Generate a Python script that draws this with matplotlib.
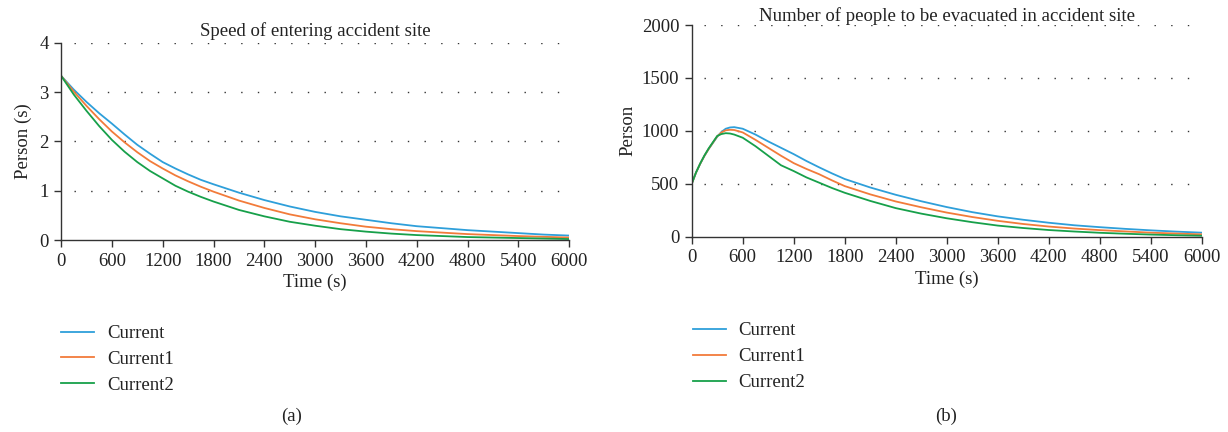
import matplotlib.pyplot as plt

plt.rcParams['font.family'] = ['Liberation Serif', 'DejaVu Serif']

# ---- data (a): speed of entering accident site ----
time_a = [0, 150, 300, 450, 600, 750, 900, 1050, 1200, 1350, 1500, 1650, 1800, 2100, 2400,
          2700, 3000, 3300, 3600, 3900, 4200, 4500, 4800, 5100, 5400, 5700, 6000]
speed_current = [3.33, 3.05, 2.80, 2.57, 2.36, 2.14, 1.93, 1.75, 1.58, 1.45, 1.33, 1.22, 1.13,
                 0.96, 0.81, 0.68, 0.57, 0.48, 0.41, 0.34, 0.28, 0.24, 0.20, 0.17, 0.14,
                 0.11, 0.09]
speed_current1 = [3.33, 3.01, 2.72, 2.45, 2.20, 1.98, 1.78, 1.60, 1.45, 1.31, 1.19, 1.08, 0.98,
                  0.80, 0.65, 0.52, 0.42, 0.34, 0.27, 0.22, 0.18, 0.15, 0.12, 0.10, 0.08,
                  0.065, 0.05]
speed_current2 = [3.33, 2.95, 2.62, 2.31, 2.03, 1.79, 1.58, 1.40, 1.25, 1.10, 0.98, 0.875, 0.78,
                  0.61, 0.48, 0.37, 0.29, 0.22, 0.17, 0.13, 0.10, 0.08, 0.06, 0.05, 0.04,
                  0.03, 0.02]

# ---- data (b): number of people to be evacuated ----
time_b = [0, 50, 100, 150, 200, 300, 350, 400, 450, 500, 600, 750, 900, 1050, 1200, 1350,
          1500, 1650, 1800, 2100, 2400, 2700, 3000, 3300, 3600, 3900, 4200, 4500, 4800,
          5100, 5400, 5700, 6000]
people_current = [500, 605, 690, 765, 830, 945, 990, 1020, 1032, 1035, 1020, 965, 900, 840,
                  780, 715, 655, 598, 545, 465, 396, 335, 280, 232, 192, 160, 132, 108, 90,
                  74, 60, 48, 38]
people_current1 = [500, 605, 690, 765, 830, 948, 985, 1005, 1010, 1008, 985, 915, 840, 765,
                   695, 640, 590, 532, 478, 400, 333, 278, 228, 186, 150, 120, 96, 77, 62,
                   50, 38, 30, 22]
people_current2 = [500, 606, 692, 768, 835, 952, 970, 978, 975, 965, 935, 855, 765, 675,
                   620, 560, 510, 460, 415, 338, 270, 218, 174, 137, 105, 82, 63, 49, 37,
                   28, 20, 14, 9]

labels = ['Current', 'Current1', 'Current2']
colors = ['#2E9FDA', '#F27B3A', '#17A04A']
xticks = list(range(0, 6001, 600))

FS = 13.5
TXT = '#222222'

fig = plt.figure(figsize=(12.28, 4.32), dpi=100)
ax_a = fig.add_axes([0.0497, 0.4444, 0.4139, 0.4568])
ax_b = fig.add_axes([0.5633, 0.4521, 0.4153, 0.4900])


def style_axes(ax, ymax, ystep):
    for side in ['top', 'right']:
        ax.spines[side].set_visible(False)
    for side in ['left', 'bottom']:
        ax.spines[side].set_color('#333333')
        ax.spines[side].set_linewidth(1.0)
    ax.set_xlim(0, 6000)
    ax.set_ylim(0, ymax)
    ax.set_xticks(xticks)
    yt = list(range(0, ymax + 1, ystep))
    ax.set_yticks(yt)
    ax.tick_params(direction='out', length=5, width=1.0, color='#333333',
                   labelsize=FS, labelcolor=TXT, pad=4)
    for y in yt[1:]:
        ax.axhline(y, xmin=0.025, xmax=1.0, color='#333333', lw=1.0,
                   linestyle=(0, (1, 11)), zorder=0)


for vals, lab, c in zip([speed_current, speed_current1, speed_current2], labels, colors):
    ax_a.plot(time_a, vals, color=c, lw=1.3, label=lab)
style_axes(ax_a, 4, 1)
ax_a.set_title('Speed of entering accident site', fontsize=FS, color=TXT, pad=5)
ax_a.set_xlabel('Time (s)', fontsize=FS, color=TXT, labelpad=3)
ax_a.set_ylabel('Person (s)', fontsize=FS, color=TXT, labelpad=5)
ax_a.legend(loc='upper left', bbox_to_anchor=(-0.033, -0.345), frameon=False,
            fontsize=FS, handlelength=1.75, handletextpad=0.7, labelspacing=0.47,
            labelcolor=TXT)

for vals, lab, c in zip([people_current, people_current1, people_current2], labels, colors):
    ax_b.plot(time_b, vals, color=c, lw=1.3, label=lab)
style_axes(ax_b, 2000, 500)
ax_b.set_title('Number of people to be evacuated in accident site', fontsize=FS,
               color=TXT, pad=2)
ax_b.set_xlabel('Time (s)', fontsize=FS, color=TXT, labelpad=3)
ax_b.set_ylabel('Person', fontsize=FS, color=TXT, labelpad=4)
ax_b.legend(loc='upper left', bbox_to_anchor=(-0.031, -0.324), frameon=False,
            fontsize=FS, handlelength=1.75, handletextpad=0.7, labelspacing=0.47,
            labelcolor=TXT)

fig.text(292 / 1228, 1 - 416 / 432, '(a)', ha='center', va='center',
         fontsize=FS, color=TXT)
fig.text(946 / 1228, 1 - 416 / 432, '(b)', ha='center', va='center',
         fontsize=FS, color=TXT)

fig.savefig('out.png', dpi=100, facecolor='white')
